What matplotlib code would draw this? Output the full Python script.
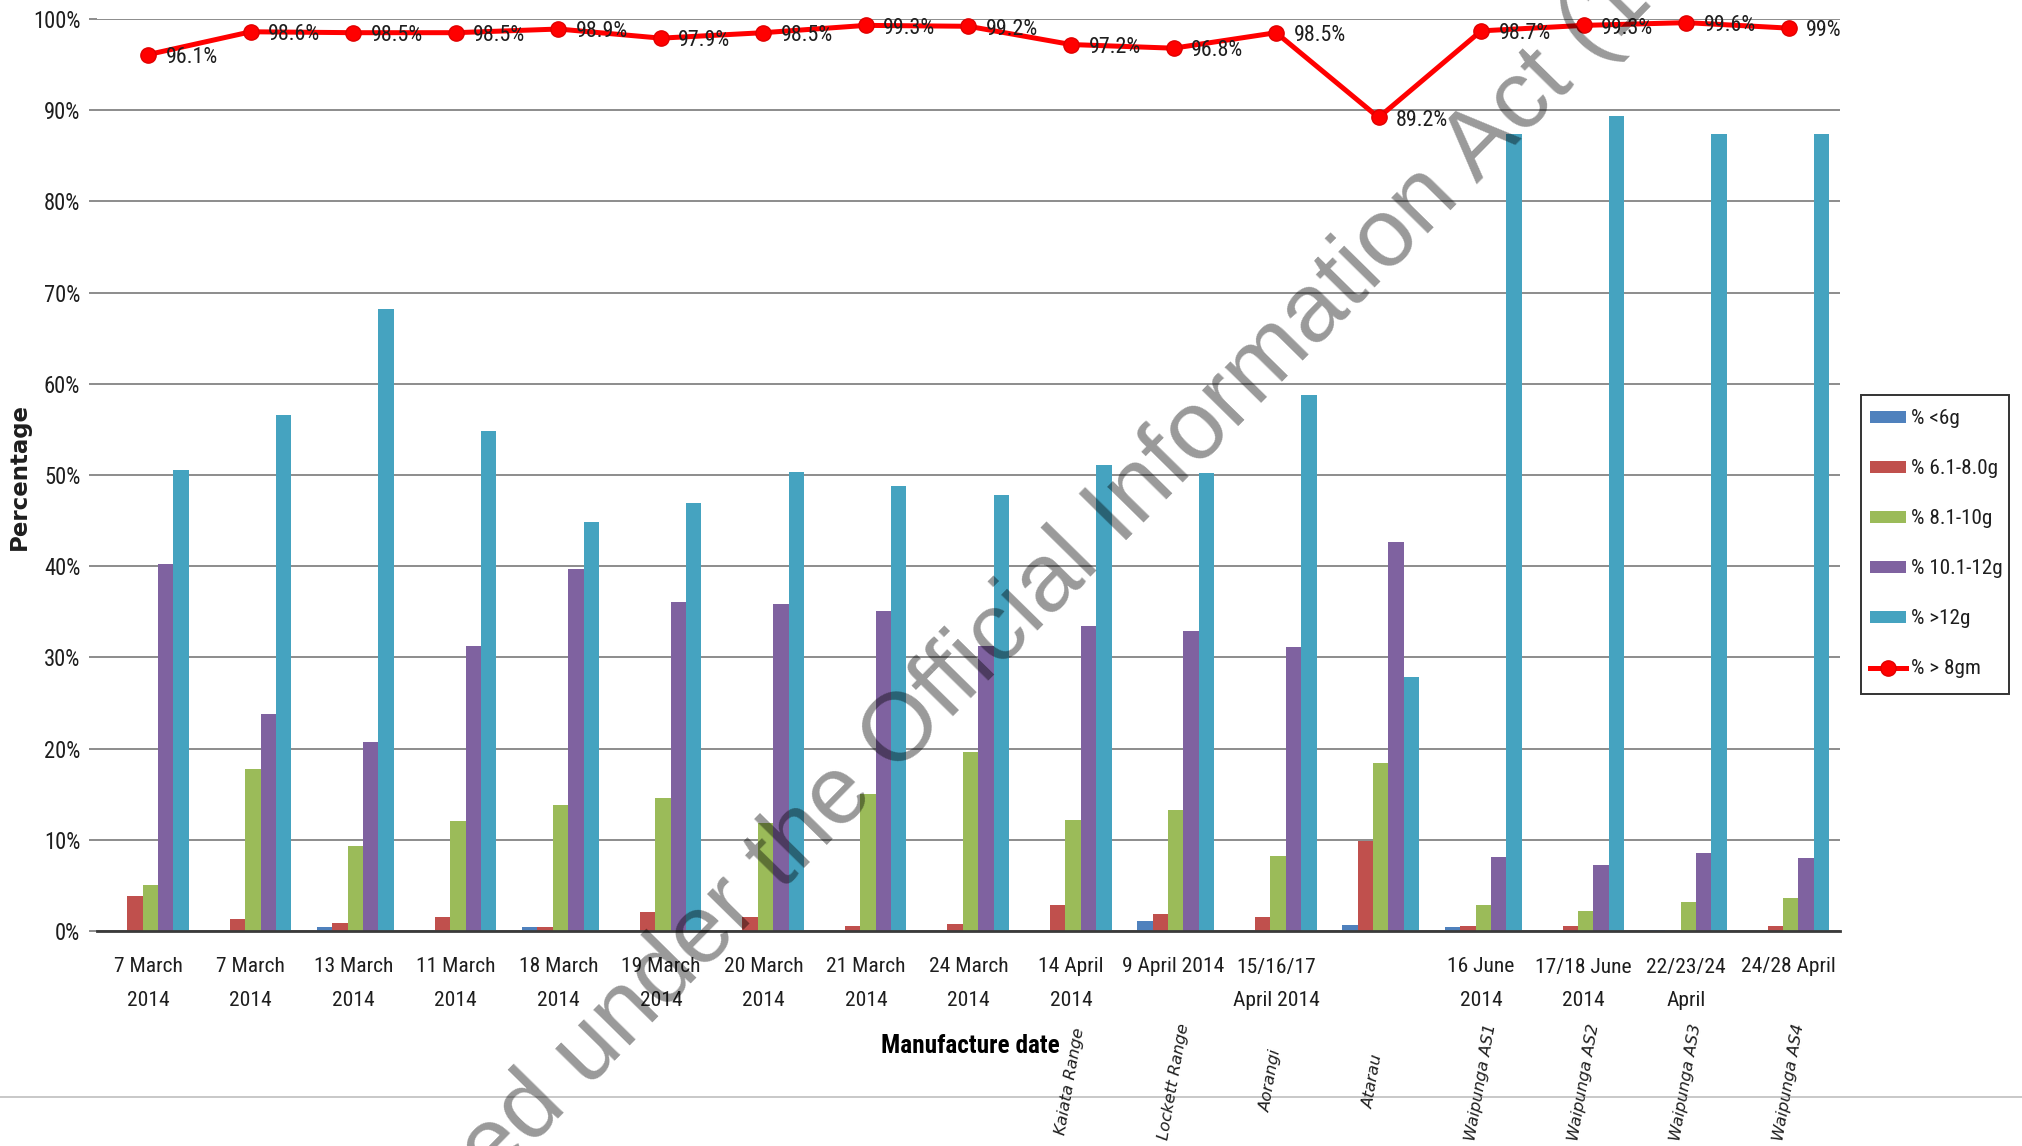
import matplotlib
matplotlib.use("Agg")
import matplotlib.pyplot as plt
from matplotlib import font_manager
from matplotlib.font_manager import FontProperties
from matplotlib.lines import Line2D
from matplotlib.patches import Patch, Rectangle
from matplotlib.transforms import blended_transform_factory
import numpy as np

# ---------------------------------------------------------------- data
dates = ["7 March\n2014", "7 March\n2014", "13 March\n2014", "11 March\n2014",
         "18 March\n2014", "19 March\n2014", "20 March\n2014", "21 March\n2014",
         "24 March\n2014", "14 April\n2014", "9 April 2014", "15/16/17\nApril 2014",
         "", "16 June\n2014", "17/18 June\n2014", "22/23/24\nApril", "24/28 April"]

sites = ["Kaiata Range", "Lockett Range", "Aorangi", "Atarau",
         "Waipunga AS1", "Waipunga AS2", "Waipunga AS3", "Waipunga AS4"]
first_site_index = 9

pct_lt6 = [0.0, 0.0, 0.45, 0.0, 0.45, 0.0, 0.0, 0.0, 0.0, 0.0, 1.15, 0.0, 0.7, 0.4, 0.0, 0.1, 0.0]
pct_6_8 = [3.8, 1.35, 0.85, 1.5, 0.45, 2.1, 1.5, 0.5, 0.75, 2.8, 1.9, 1.5, 9.9, 0.5, 0.5, 0.0, 0.6]
pct_8_10 = [5.0, 17.8, 9.3, 12.1, 13.8, 14.6, 11.8, 15.0, 19.6, 12.2, 13.3, 8.2, 18.4, 2.8, 2.2, 3.2, 3.6]
pct_10_12 = [40.2, 23.8, 20.7, 31.3, 39.7, 36.1, 35.9, 35.1, 31.2, 33.4, 32.9, 31.1, 42.6, 8.1, 7.2, 8.6, 8.0]
pct_gt12 = [50.5, 56.6, 68.2, 54.8, 44.9, 46.9, 50.3, 48.8, 47.8, 51.1, 50.2, 58.8, 27.9, 87.4, 89.4, 87.4, 87.4]
pct_over8 = [96.1, 98.6, 98.5, 98.5, 98.9, 97.9, 98.5, 99.3, 99.2, 97.2, 96.8, 98.5, 89.2, 98.7, 99.3, 99.6, 99.0]

bar_series = [pct_lt6, pct_6_8, pct_8_10, pct_10_12, pct_gt12]
bar_names = ["% <6g", "% 6.1-8.0g", "% 8.1-10g", "% 10.1-12g", "% >12g"]
line_name = "% > 8gm"
y_ticks = [0, 10, 20, 30, 40, 50, 60, 70, 80, 90, 100]

# ---------------------------------------------------------------- style
bar_colors = ["#4F81BD", "#C0504D", "#9BBB59", "#7F62A0", "#45A3C0"]
line_color = "#FF0000"
grid_color = "#8C8C8C"
text_color = "#1E1E1E"

W, H = 2022, 1146
fig = plt.figure(figsize=(W / 100, H / 100), dpi=100)
fig.patch.set_facecolor("white")
renderer = fig.canvas.get_renderer()


def _weight(e):
    w = e.weight
    if isinstance(w, str):
        return {"bold": 700, "semibold": 600, "demibold": 600}.get(w.lower(), 400)
    return int(w)


def narrow_face(bold=False):
    """A narrow sans face (file-based) if one is installed, else Liberation Sans."""
    entries = font_manager.fontManager.ttflist

    def ok(e):
        return e.style == "normal" and ((_weight(e) >= 600) == bold) and _weight(e) < 800 \
            and (bold or _weight(e) >= 350)

    for name in ("Liberation Sans Narrow", "Arial Narrow", "Roboto Condensed",
                 "Open Sans Condensed", "Noto Sans SemiCondensed", "Noto Sans Condensed"):
        for e in entries:
            if e.name == name and ok(e):
                return FontProperties(fname=e.fname)
    for stretch in ("semi-condensed", "condensed"):
        for e in entries:
            if e.stretch == stretch and ok(e) and e.name in (
                    "Noto Sans", "DejaVu Sans", "Roboto", "Open Sans", "Liberation Sans"):
                return FontProperties(fname=e.fname)
    return FontProperties(family="Liberation Sans", weight="bold" if bold else "normal")


def fitted(fp, sample, target_px, max_pt):
    p = fp.copy()
    p.set_size(10)
    w, _, _ = renderer.get_text_width_height_descent(sample, p, ismath=False)
    p.set_size(min(max_pt, 10 * target_px / w))
    return p


def lp_metrics(fp):
    _, h, d = renderer.get_text_width_height_descent("lp", fp, ismath=False)
    return h, d


base = narrow_face(False)
base_bold = narrow_face(True)
fp_tick = fitted(base, "7 March", 69, 20)
fp_ytick = fitted(base, "100%", 47, 19)
fp_val = fitted(base, "96.1%", 52, 19)
fp_leg = fitted(base, "% 6.1-8.0g", 86, 19)
fp_xlabel = fitted(base_bold, "Manufacture date", 178, 22)

ax_left, ax_right, ax_top, ax_bottom = 97, 1840, 19, 931
ax = fig.add_axes([ax_left / W, 1 - ax_bottom / H,
                   (ax_right - ax_left) / W, (ax_bottom - ax_top) / H])

n = len(dates)
x = np.arange(n)
bw = 0.15

for i, (vals, col, name) in enumerate(zip(bar_series, bar_colors, bar_names)):
    ax.bar(x + (i - 2) * bw + 0.02, vals, width=bw, color=col, label=name,
           zorder=3, linewidth=0)

ax.plot(x, pct_over8, color=line_color, linewidth=3.6, marker="o",
        markersize=11, markerfacecolor=line_color, markeredgecolor="#E00000",
        zorder=5, clip_on=False, label=line_name)

for xi, v in zip(x, pct_over8):
    ax.annotate(f"{v:g}%", (xi, v), xytext=(12.5, -2), textcoords="offset points",
                ha="left", va="center", fontproperties=fp_val,
                color=text_color, zorder=6, annotation_clip=False)

ax.set_xlim(-0.5, n - 0.5)
ax.set_ylim(0, 100)
ax.set_yticks(y_ticks)
ax.set_yticklabels([f"{t}%" for t in y_ticks], fontproperties=fp_ytick,
                   color=text_color)

# two-line date labels: first line centred ~36 px under the axis, 33.5 px line pitch
tick_h, tick_d = lp_metrics(fp_tick)
tick_ls = (33.5 - tick_d) / (tick_h - tick_d)
tick_pad_pt = max(2.0, (36 - tick_h / 2) * 0.72)
ax.set_xticks(x)
ax.set_xticklabels(dates, fontproperties=fp_tick, color=text_color,
                   linespacing=tick_ls)
ax.tick_params(axis="x", length=0, pad=tick_pad_pt)
ax.tick_params(axis="y", length=6, color=grid_color, width=1.4, pad=6)

ax.yaxis.grid(True, color=grid_color, linewidth=1.4, zorder=0)
ax.set_axisbelow(True)
for side in ("left", "right", "top"):
    ax.spines[side].set_visible(False)
ax.spines["bottom"].set_color("#3A3A3A")
ax.spines["bottom"].set_linewidth(2.0)
ax.spines["bottom"].set_zorder(4)

fig.text(19 / W, 1 - 477 / H, "Percentage", rotation=90, ha="center", va="center",
         fontsize=16.5, fontweight="bold", family="DejaVu Sans", color=text_color)
fig.text(970 / W, 1 - 1046 / H, "Manufacture date", ha="center", va="center",
         fontproperties=fp_xlabel, color="black")

# site names under the later dates, slanted; lower end of each name in pixels
site_bottom_px = [1135, 1140, 1112, 1108, 1141, 1141, 1141, 1141]
site_tf = blended_transform_factory(ax.transData, fig.transFigure)
for k, s in enumerate(sites):
    fig.text(first_site_index + k - 0.1, 1 - site_bottom_px[k] / H, s, transform=site_tf,
             rotation=80, rotation_mode="anchor", ha="left", va="center",
             fontsize=11.8, style="italic", family="DejaVu Sans", color=text_color)

# legend: frame drawn on its own, rows 50 px apart, first row centred at y=419 px
box_l, box_t, box_r, box_b = 1861, 395, 2009, 694
fig.add_artist(Rectangle((box_l / W, 1 - box_b / H), (box_r - box_l) / W,
                         (box_b - box_t) / H, transform=fig.transFigure,
                         fill=False, edgecolor="#333333", linewidth=1.4, zorder=20))
leg_h, _ = lp_metrics(fp_leg)
leg_fs_px = fp_leg.get_size_in_points() / 0.72
leg_spacing = (50 - leg_h) / leg_fs_px

handles = [Patch(facecolor=c, edgecolor="none") for c in bar_colors]
handles.append(Line2D([], [], color=line_color, linewidth=3.6, marker="o",
                      markersize=11, markerfacecolor=line_color,
                      markeredgecolor="#E00000"))
leg = fig.legend(handles, bar_names + [line_name], loc="upper left",
                 bbox_to_anchor=(1870 / W, 1 - (419 - leg_h / 2) / H),
                 frameon=False, prop=fp_leg,
                 borderpad=0, labelspacing=leg_spacing,
                 handlelength=36 / leg_fs_px, handleheight=10 / leg_fs_px,
                 handletextpad=5 / leg_fs_px, borderaxespad=0)
for t in leg.get_texts():
    t.set_color(text_color)

# thin rule across the page below the chart
fig.add_artist(Line2D([0, 1], [1 - 1097 / H, 1 - 1097 / H], transform=fig.transFigure,
                      color="#C8C8C8", linewidth=1.4))

# release stamp
fig.text(1018 / W, 1 - 615 / H, "Released under the Official Information Act (1982)",
         rotation=45.5, rotation_mode="anchor", ha="center", va="center",
         fontsize=70, family="Liberation Sans", color="black", alpha=0.40,
         zorder=100)

fig.savefig("out.png", dpi=100, facecolor="white")
